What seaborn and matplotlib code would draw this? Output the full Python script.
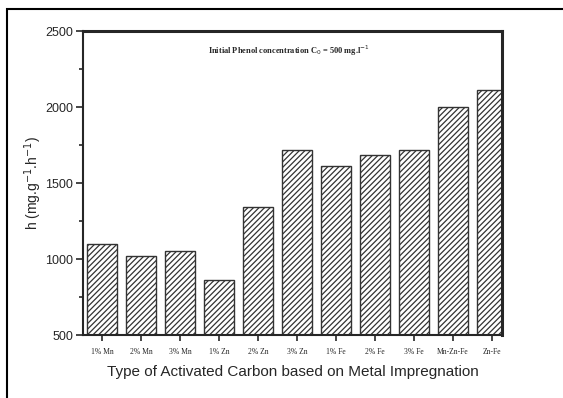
import matplotlib
matplotlib.use("Agg")
import matplotlib.pyplot as plt
import seaborn as sns
import pandas as pd
from matplotlib.patches import Rectangle
from matplotlib.ticker import MultipleLocator

categories = ["1% Mn", "2% Mn", "3% Mn", "1% Zn", "2% Zn", "3% Zn",
              "1% Fe", "2% Fe", "3% Fe", "Mn-Zn-Fe", "Zn-Fe"]
values = [1097, 1018, 1053, 864, 1343, 1715, 1613, 1686, 1715, 1998, 2115]
yticks = [500, 1000, 1500, 2000, 2500]

sns.set_style("ticks")
plt.rcParams['font.family'] = ['Liberation Sans', 'DejaVu Sans']
plt.rcParams['hatch.linewidth'] = 0.9
plt.rcParams['hatch.color'] = '#222222'

df = pd.DataFrame({"cat": categories, "h": values})

fig = plt.figure(figsize=(5.63, 3.98), dpi=100)
ax = fig.add_axes([83/563, 1-335/398, (502-83)/563, (335-31)/398])

sns.barplot(data=df, x="cat", y="h", ax=ax, color="white", width=0.77,
            edgecolor="#333333", linewidth=1.0, saturation=1)
for p in ax.patches:
    p.set_hatch("//////")
    p.set_facecolor("white")

ax.set_ylim(500, 2500)
ax.set_xlim(-0.49, 10.26)
ax.set_yticks(yticks)
ax.yaxis.set_minor_locator(MultipleLocator(250))
ax.tick_params(axis='y', which='major', direction='out', length=5, width=1.2, labelsize=9, pad=2)
ax.tick_params(axis='y', which='minor', direction='out', length=3, width=1.2)
ax.tick_params(axis='x', which='major', direction='out', length=4, width=1.2, pad=5)
for lab in ax.get_xticklabels():
    lab.set_fontfamily(['Liberation Serif', 'DejaVu Serif'])
    lab.set_fontsize(5.5)

for s in ['left', 'bottom']:
    ax.spines[s].set_linewidth(1.5)
for s in ['top', 'right']:
    ax.spines[s].set_visible(True)
    ax.spines[s].set_linewidth(2.2)

ax.set_xlabel("Type of Activated Carbon based on Metal Impregnation", fontsize=11, labelpad=7)
ax.set_ylabel("h (mg.g$^{-1}$.h$^{-1}$)", fontsize=10, labelpad=1)

ax.text(0.49, 0.935, "Initial Phenol concentration C$_0$ = 500 mg.l$^{-1}$",
        transform=ax.transAxes, ha='center', va='center', fontsize=6,
        fontweight='bold', family=['Liberation Serif', 'DejaVu Serif'])

fig.patches.append(Rectangle((7/563, -0.1), 1.2, 1 - 9/398 + 0.1, transform=fig.transFigure,
                             fill=False, edgecolor='black', linewidth=1.5, clip_on=False))

fig.savefig("out.png", dpi=100)
